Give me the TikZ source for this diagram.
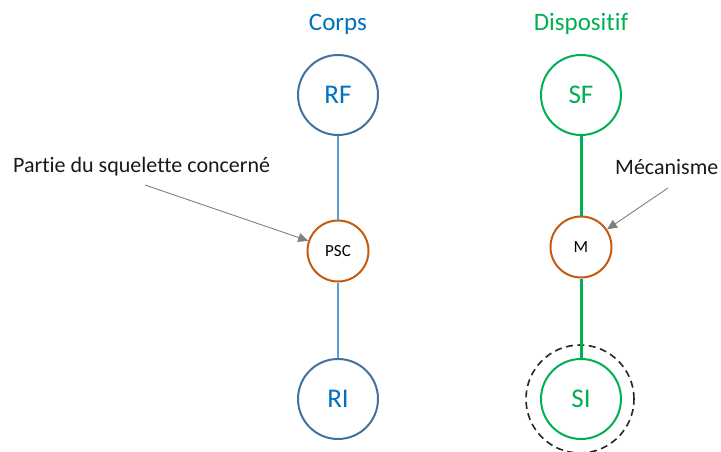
\documentclass[tikz,border=0pt]{standalone}
\usepackage{fontspec}
\setmainfont{Carlito}[Ligatures={NoCommon}]
\usetikzlibrary{arrows.meta}
\definecolor{cblue}{RGB}{0,112,192}
\definecolor{cstroke}{RGB}{65,113,156}
\definecolor{cline}{RGB}{91,155,213}
\definecolor{cgreen}{RGB}{0,176,80}
\definecolor{corange}{RGB}{197,90,17}
\definecolor{cgray}{RGB}{128,128,128}
\begin{document}
\begin{tikzpicture}[x=1pt,y=-1pt,
  bignode/.style={circle,draw,line width=2pt,minimum size=80pt,inner sep=0pt,font=\fontsize{27}{30}\selectfont},
  smallnode/.style={circle,draw=corange,line width=2pt,minimum size=61pt,inner sep=0pt,font=\fontsize{17}{20}\selectfont,text=black},
  title/.style={font=\fontsize{25}{28}\selectfont},
  lbl/.style={font=\fontsize{22}{26}\selectfont,text=black!90},
  pointer/.style={draw=cgray,line width=0.9pt,-{Triangle[length=10pt,width=9pt]}}]
\useasboundingbox (0,0) rectangle (721,452);
\node[title,text=cblue] (corps) at (338,24) {Corps};
\node[title,text=cgreen] (disp) at (581,24) {Dispositif};
\node[bignode,draw=cstroke,text=cblue] (RF) at (338,95) {RF};
\node[smallnode] (PSC) at (338,251) {PSC};
\node[bignode,draw=cstroke,text=cblue] (RI) at (338,399) {RI};
\node[bignode,draw=cgreen,text=cgreen] (SF) at (581,95) {SF};
\node[smallnode] (M) at (581,247) {M};
\node[bignode,draw=cgreen,text=cgreen] (SI) at (581,399) {SI};
\node[circle,draw=black!85,dash pattern=on 7pt off 4.5pt,line width=1.6pt,minimum size=108pt,inner sep=0pt] (SIring) at (580,399) {};
\draw[cline,line width=2.6pt] (RF) -- (PSC);
\draw[cline,line width=2.6pt] (PSC) -- (RI);
\draw[cgreen,line width=3pt] (SF) -- (M);
\draw[cgreen,line width=3pt] (M) -- (SI);
\node[lbl,anchor=base west,inner sep=0pt] (plabel) at (13,172) {Partie du squelette concerné};
\node[lbl,anchor=base west,inner sep=0pt] (mlabel) at (615,175) {Mécanisme};
\coordinate (pstart) at (145,185);
\coordinate (mstart) at (668,188);
\draw[pointer] (pstart) -- (PSC);
\draw[pointer] (mstart) -- (M);
\end{tikzpicture}
\end{document}
